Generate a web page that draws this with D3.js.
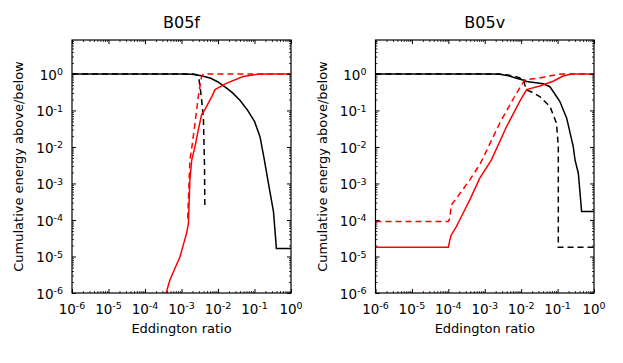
<!DOCTYPE html>
<html>
<head>
<meta charset="utf-8">
<script src="https://cdn.jsdelivr.net/npm/d3@7"></script>
<style>
  body { margin: 0; background: #fff; }
  text { font-family: "DejaVu Sans", sans-serif; fill: #000; }
</style>
</head>
<body>
<svg id="fig" width="623" height="363"></svg>
<script>
// values are log10(Eddington ratio), log10(cumulative energy)
var decades = [-6, -5, -4, -3, -2, -1, 0];

var b05fAboveSolid = [[-6,0],[-3,0],[-2.7,-0.01],[-2.45,-0.05],[-2.2,-0.12],[-2,-0.22],[-1.8,-0.36],[-1.6,-0.52],[-1.4,-0.72],[-1.2,-0.98],[-1.0,-1.3],[-0.85,-1.72],[-0.74,-2.3],[-0.6,-3.1],[-0.48,-3.77],[-0.4,-4.78],[0,-4.78]];
var b05fAboveDashed = [[-6,0],[-2.7,0],[-2.58,-0.02],[-2.52,-0.15],[-2.46,-0.6],[-2.40,-1.2],[-2.37,-2.5],[-2.36,-3.68]];
var b05fBelowSolid = [[-3.5,-6.3],[-3.42,-6],[-3.32,-5.65],[-3.04,-5.0],[-2.86,-4.36],[-2.81,-4.09],[-2.77,-2.90],[-2.72,-2.36],[-2.63,-1.99],[-2.54,-1.53],[-2.45,-1.12],[-2.36,-0.98],[-2.17,-0.62],[-2.08,-0.43],[-1.76,-0.25],[-1.31,-0.07],[-0.85,0],[0,0]];
var b05fBelowDashed = [[-2.83,-3.96],[-2.77,-2.36],[-2.72,-2.04],[-2.63,-1.35],[-2.54,-0.62],[-2.45,-0.07],[-2.40,0],[0,0]];

var b05vAboveSolid = [[-6,0],[-2.8,0],[-2.59,-0.01],[-2.35,-0.05],[-2.13,-0.12],[-1.9,-0.18],[-1.85,-0.21],[-1.6,-0.24],[-1.39,-0.27],[-1.21,-0.35],[-1.12,-0.48],[-0.94,-0.75],[-0.75,-1.21],[-0.57,-1.99],[-0.52,-2.36],[-0.43,-2.72],[-0.34,-3.77],[0,-3.77]];
var b05vAboveDashed = [[-6,0],[-2.6,0],[-2.3,-0.04],[-2.05,-0.1],[-1.92,-0.18],[-1.9,-0.3],[-1.86,-0.43],[-1.7,-0.5],[-1.49,-0.62],[-1.21,-0.89],[-1.03,-1.35],[-0.98,-1.99],[-0.98,-4.75],[0,-4.75]];
var b05vBelowSolid = [[-6,-4.75],[-4.0,-4.75],[-3.96,-4.55],[-3.92,-4.41],[-3.78,-4.18],[-3.69,-4.0],[-3.41,-3.45],[-3.14,-2.86],[-2.82,-2.36],[-2.40,-1.44],[-2.04,-0.75],[-1.85,-0.43],[-1.49,-0.33],[-1.12,-0.2],[-0.84,-0.05],[-0.6,0],[0,0]];
var b05vBelowDashed = [[-6,-4.04],[-4.0,-4.04],[-3.96,-3.96],[-3.92,-3.59],[-3.78,-3.41],[-3.41,-2.90],[-3.14,-2.49],[-3.05,-2.31],[-2.59,-1.35],[-2.13,-0.53],[-1.90,-0.16],[-1.49,-0.11],[-1.03,-0.02],[-0.9,0],[0,0]];

var panels = [
  {title: "B05f", left: 72, right: 291,
   series: [
     {data: b05fAboveSolid, color: "#000", dash: null},
     {data: b05fAboveDashed, color: "#000", dash: "6,4"},
     {data: b05fBelowSolid, color: "#f00", dash: null},
     {data: b05fBelowDashed, color: "#f00", dash: "6,4"}
   ]},
  {title: "B05v", left: 375.5, right: 594,
   series: [
     {data: b05vAboveSolid, color: "#000", dash: null},
     {data: b05vAboveDashed, color: "#000", dash: "6,4"},
     {data: b05vBelowSolid, color: "#f00", dash: null},
     {data: b05vBelowDashed, color: "#f00", dash: "6,4"}
   ]}
];

var plotTop = 40, plotBottom = 293;
var svg = d3.select("#fig");

var minors = [];
for (var k = -6; k < 0; k++) {
  for (var m = 2; m <= 9; m++) minors.push(m * Math.pow(10, k));
}
var minorsY = minors.concat([2,3,4,5,6,7,8]);

function supLabel(sel, e) {
  sel.text("10");
  sel.append("tspan")
     .attr("dy", "-0.5em")
     .attr("font-size", "9.5px")
     .text(e);
}

panels.forEach(function(p, pi) {
  var x = d3.scaleLog().domain([1e-6, 1]).range([p.left, p.right]);
  var y = d3.scaleLog().domain([1e-6, 8.5]).range([plotBottom, plotTop]);

  var g = svg.append("g");

  g.append("clipPath").attr("id", "clip" + pi)
    .append("rect")
    .attr("x", p.left).attr("y", plotTop)
    .attr("width", p.right - p.left).attr("height", plotBottom - plotTop);

  var line = d3.line()
    .x(d => x(Math.pow(10, d[0])))
    .y(d => y(Math.pow(10, d[1])));

  g.selectAll(".series")
    .data(p.series)
    .enter()
    .append("path")
      .attr("clip-path", "url(#clip" + pi + ")")
      .attr("fill", "none")
      .attr("stroke", d => d.color)
      .attr("stroke-width", 1.5)
      .attr("stroke-dasharray", d => d.dash)
      .attr("d", d => line(d.data));

  // inward ticks on all four sides
  var majX = decades.map(e => Math.pow(10, e));
  var axes = [
    [d3.axisBottom, x, "translate(0," + plotBottom + ")", minors],
    [d3.axisTop, x, "translate(0," + plotTop + ")", minors],
    [d3.axisLeft, y, "translate(" + p.left + ",0)", minorsY],
    [d3.axisRight, y, "translate(" + p.right + ",0)", minorsY]
  ];
  axes.forEach(function(a) {
    var maj = g.append("g").attr("transform", a[2])
      .call(a[0](a[1]).tickValues(majX).tickSize(-4).tickFormat(""));
    maj.select(".domain").remove();
    maj.selectAll("line").attr("stroke", "#000").attr("stroke-width", 1);
    var mnr = g.append("g").attr("transform", a[2])
      .call(a[0](a[1]).tickValues(a[3]).tickSize(-2).tickFormat(""));
    mnr.select(".domain").remove();
    mnr.selectAll("line").attr("stroke", "#000").attr("stroke-width", 0.8);
  });

  g.append("rect")
    .attr("x", p.left).attr("y", plotTop)
    .attr("width", p.right - p.left).attr("height", plotBottom - plotTop)
    .attr("fill", "none").attr("stroke", "#000").attr("stroke-width", 1.2);

  // tick labels
  g.selectAll(".xl").data(decades).enter()
    .append("text")
      .attr("x", d => x(Math.pow(10, d)))
      .attr("y", plotBottom + 21)
      .attr("text-anchor", "middle")
      .attr("font-size", "13.5px")
      .each(function(d) { supLabel(d3.select(this), String(d)); });

  g.selectAll(".yl").data(decades).enter()
    .append("text")
      .attr("x", p.left - 9)
      .attr("y", d => y(Math.pow(10, d)) + 6)
      .attr("text-anchor", "end")
      .attr("font-size", "13.5px")
      .each(function(d) { supLabel(d3.select(this), String(d)); });

  var cx = (p.left + p.right) / 2;
  g.append("text")
    .attr("x", cx).attr("y", 28)
    .attr("text-anchor", "middle")
    .attr("font-size", "16px")
    .text(p.title);

  g.append("text")
    .attr("x", cx).attr("y", 333)
    .attr("text-anchor", "middle")
    .attr("font-size", "13px")
    .text("Eddington ratio");

  g.append("text")
    .attr("transform", "translate(" + (p.left - 49) + "," + ((plotTop + plotBottom) / 2) + ") rotate(-90)")
    .attr("text-anchor", "middle")
    .attr("font-size", "13px")
    .text("Cumulative energy above/below");
});
</script>
</body>
</html>
